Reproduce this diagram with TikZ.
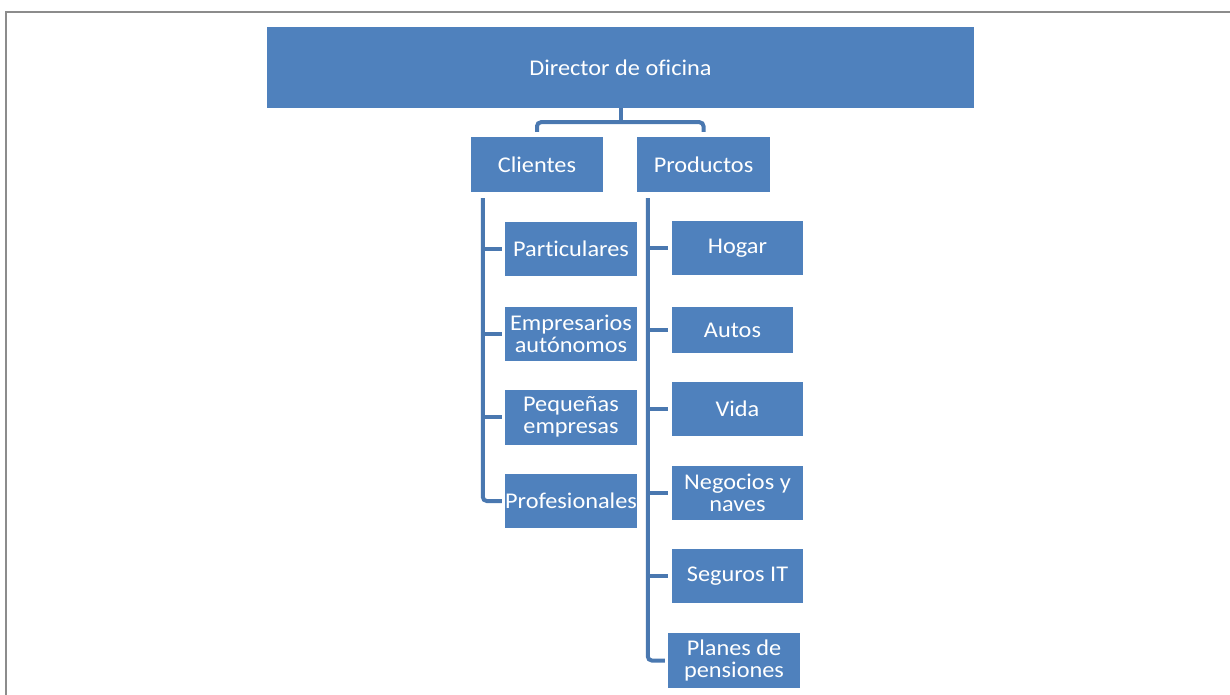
\documentclass[tikz,border=0pt]{standalone}
\usepackage{fontspec}
\setmainfont{Carlito}[FakeStretch=1.08,Ligatures=NoCommon]
\usepackage{xcolor, tikz}
\usetikzlibrary{positioning}
\definecolor{boxblue}{HTML}{4F81BD}
\definecolor{lineblue}{HTML}{4A78B0}

\begin{document}
\begin{tikzpicture}[x=1pt,y=-1pt,
		box/.style={fill=boxblue,text=white,inner sep=0,align=center,font=\fontsize{22.5}{22}\selectfont},
		conn/.style={lineblue,line width=4pt}]
			\useasboundingbox (0,0) rectangle (1230,695);
			\draw[gray!90,line width=2pt] (1230,12) -- (6,12) -- (6,695);
			
			\node[box,minimum width=707,minimum height=81] (dir) at (620.5,67.5) {Director de oficina};
			\node[box,minimum width=132,minimum height=55] (cli) at (537,164.5) {Clientes};
			\node[box,minimum width=133,minimum height=55] (prod) at (703.5,164.5) {Productos};
			
			\draw[conn] (dir.south) -- ++(0,14);
			\draw[conn,rounded corners=4] ([yshift=5pt]cli.north) |- ([yshift=-14pt]dir.south) -| ([yshift=5pt]prod.north);
			
			% clientes
			\node[box,minimum width=132,minimum height=54] (c1) at (571,249) {Particulares};
			\node[box,minimum width=132,minimum height=54] (c2) at (571,333.5) {Empresarios\\autónomos};
			\node[box,minimum width=132,minimum height=55] (c3) at (571,417) {Pequeñas\\empresas};
			\node[box,minimum width=132,minimum height=54] (c4) at (571,501) {Profesionales};
			\draw[conn,rounded corners=4] ([xshift=12pt,yshift=-6pt]cli.south west) |- ([xshift=-3pt]c4.west);
			\foreach \k in {c1,c2,c3}
				\draw[conn] ([xshift=-3pt]\k.west) -- ++(-19,0);
			
			% productos
			\node[box,minimum width=131,minimum height=54] (p1) at (737.5,248) {Hogar};
			\node[box,minimum width=121,minimum height=46] (p2) at (732.5,330) {Autos};
			\node[box,minimum width=131,minimum height=54] (p3) at (737.5,409) {Vida};
			\node[box,minimum width=131,minimum height=54] (p4) at (737.5,493) {Negocios y\\naves};
			\node[box,minimum width=131,minimum height=54] (p5) at (737.5,576) {Seguros IT};
			\node[box,minimum width=132,minimum height=55] (p6) at (734,660.5) {Planes de\\pensiones};
			\draw[conn,rounded corners=4] ([xshift=11pt,yshift=-6pt]prod.south west) |- ([xshift=-3pt]p6.west);
			\foreach \k in {p1,p2,p3,p4,p5}
				\draw[conn] ([xshift=-4pt]\k.west) -- ++(-20,0);
		\end{tikzpicture}
\end{document}
